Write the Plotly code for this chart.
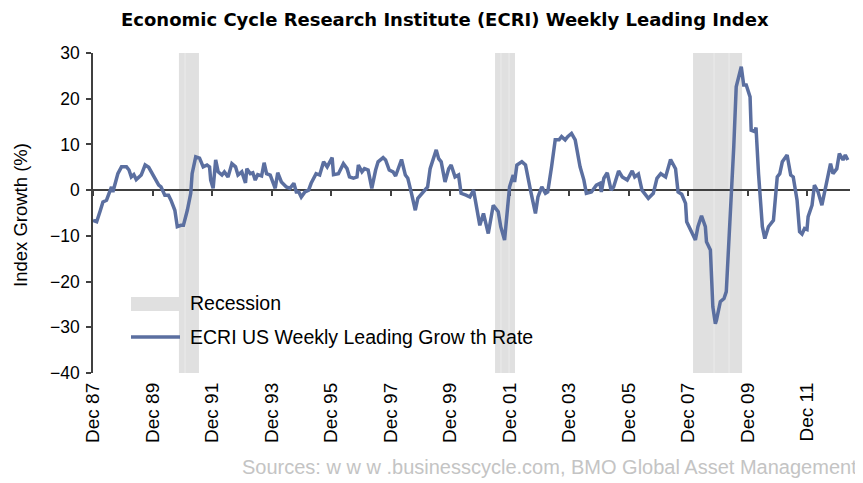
import plotly.graph_objects as go

# ---- data ----
dates = [
    "1987-12-01","1988-01-15","1988-03-01","1988-04-01","1988-05-15","1988-06-15","1988-07-15","1988-08-01",
    "1988-10-01","1988-11-15","1989-01-15","1989-02-15","1989-03-15","1989-04-15","1989-05-15","1989-07-15",
    "1989-09-01","1989-10-15","1989-11-15","1990-01-01","1990-02-15","1990-03-15","1990-05-01","1990-06-15",
    "1990-07-15","1990-09-01","1990-10-01","1990-11-15","1990-12-15","1991-02-01","1991-03-15","1991-04-01",
    "1991-05-15","1991-07-01","1991-08-15","1991-10-01","1991-11-01","1991-11-15","1991-12-15","1992-01-15",
    "1992-02-15","1992-04-01","1992-05-01","1992-06-15","1992-08-01","1992-09-15","1992-10-15","1992-12-01",
    "1993-01-15","1993-02-01","1993-03-15","1993-04-15","1993-05-15","1993-06-15","1993-08-01","1993-09-01",
    "1993-10-01","1993-11-15","1993-12-15","1994-01-15","1994-02-15","1994-04-01","1994-06-01","1994-07-15",
    "1994-09-01","1994-10-01","1994-11-01","1994-12-01","1995-01-15","1995-03-01","1995-04-01","1995-06-01",
    "1995-07-15","1995-09-01","1995-10-15","1995-12-15","1996-01-01","1996-03-01","1996-05-01","1996-06-15",
    "1996-07-15","1996-09-01","1996-10-15","1996-11-01","1996-12-15","1997-01-15","1997-03-01","1997-04-15",
    "1997-06-01","1997-07-01","1997-09-01","1997-10-01","1997-11-15","1998-01-01","1998-02-01","1998-03-01",
    "1998-04-15","1998-06-01","1998-07-01","1998-08-15","1998-10-01","1998-11-01","1999-01-01","1999-03-01",
    "1999-04-01","1999-05-15","1999-06-15","1999-07-15","1999-08-15","1999-10-01","1999-11-15","1999-12-15",
    "2000-02-01","2000-03-15","2000-04-15","2000-06-15","2000-08-01","2000-09-15","2000-11-01","2000-12-01",
    "2001-01-15","2001-03-15","2001-05-15","2001-07-15","2001-08-15","2001-10-01","2001-12-01","2002-01-15",
    "2002-02-01","2002-03-01","2002-05-01","2002-06-15","2002-08-15","2002-10-15","2002-11-15","2003-01-01",
    "2003-02-15","2003-03-15","2003-05-01","2003-06-15","2003-08-01","2003-09-01","2003-10-15","2003-11-15",
    "2004-01-01","2004-02-15","2004-04-15","2004-06-01","2004-07-01","2004-09-01","2004-11-01","2004-12-15",
    "2005-01-01","2005-02-01","2005-03-15","2005-05-01","2005-06-01","2005-08-01","2005-09-15","2005-11-15",
    "2006-01-15","2006-02-15","2006-04-01","2006-05-15","2006-08-01","2006-10-01","2006-11-15","2007-01-01",
    "2007-03-01","2007-05-01","2007-07-01","2007-08-01","2007-09-15","2007-11-01","2007-11-15","2008-01-15",
    "2008-03-01","2008-04-01","2008-05-15","2008-07-01","2008-07-15","2008-09-01","2008-10-01","2008-11-01",
    "2008-11-15","2009-01-01","2009-02-15","2009-03-15","2009-04-01","2009-05-01","2009-06-15","2009-07-15",
    "2009-09-01","2009-09-15","2009-10-15","2009-11-15","2010-01-01","2010-01-15","2010-03-01","2010-03-15",
    "2010-04-15","2010-06-01","2010-07-01","2010-08-15","2010-10-15","2010-12-01","2011-01-01","2011-02-01",
    "2011-04-01","2011-05-15","2011-06-15","2011-08-01","2011-09-01","2011-10-01","2011-11-01","2011-12-01",
    "2011-12-15","2012-02-01","2012-03-01","2012-04-15","2012-06-01","2012-07-15","2012-08-15","2012-09-15",
    "2012-10-15","2012-12-01","2013-01-01","2013-02-15","2013-03-15","2013-04-15",
]
growth = [
    -6.6, -6.9, -4.4, -2.6, -2.2, -0.4, 0.7, -0.4,
    3.6, 5.1, 5.1, 4.4, 2.9, 3.4, 2.3, 3.3,
    5.5, 5.0, 4.0, 2.2, 1.1, 0.7, -1.1, -1.1,
    -2.2, -4.4, -8.0, -7.7, -7.7, -4.4, -0.7, 3.6,
    7.3, 7.0, 5.1, 5.5, 5.1, 2.2, 0.4, 6.6,
    4.0, 3.3, 4.0, 2.9, 5.8, 5.1, 3.3, 4.0,
    1.6, 4.7, 3.6, 3.8, 2.2, 3.4, 3.1, 6.0,
    3.6, 3.3, 1.8, 0.4, 3.8, 1.8, 0.7, 0.4,
    1.5, -0.4, -0.4, -1.5, -0.4, 0.0, 1.5, 3.6,
    3.3, 6.2, 5.1, 7.1, 3.4, 3.6, 5.8, 4.7,
    2.9, 2.6, 2.9, 5.5, 4.0, 4.7, 4.4, 0.4,
    4.4, 6.2, 7.1, 6.6, 4.4, 4.0, 3.1, 4.7,
    6.7, 3.3, 2.6, -0.7, -4.4, -1.8, -0.4, 0.7,
    4.7, 6.9, 8.8, 6.9, 6.2, 1.8, 4.7, 5.5,
    2.9, 3.3, -0.7, -1.1, -1.5, 0.0, -4.4, -7.7,
    -5.1, -9.5, -3.3, -4.7, -8.0, -10.9, 0.7, 3.3,
    1.8, 5.5, 6.2, 5.5, 0.0, -5.1, -1.5, 0.7,
    -0.7, -0.4, 5.1, 11.0, 11.0, 11.7, 11.0, 11.7,
    12.4, 11.0, 5.1, 2.2, -0.7, -0.4, 1.1, 1.5,
    -0.4, 2.6, 3.8, 0.0, 0.7, 4.2, 2.9, 2.2,
    4.2, 2.9, 3.5, 0.0, -1.8, -0.7, 2.6, 3.6,
    2.9, 6.7, 4.7, -0.4, -0.9, -2.9, -6.9, -9.1,
    -10.9, -8.0, -5.6, -8.0, -11.3, -13.1, -25.5, -29.2,
    -28.4, -24.4, -23.7, -22.2, -16.8, -5.1, 9.5, 22.6,
    26.3, 27.0, 23.0, 23.0, 20.4, 13.1, 12.8, 13.7,
    3.6, -8.0, -10.6, -8.0, -6.6, 2.9, 3.6, 6.2,
    7.7, 3.3, 2.9, -2.2, -9.1, -9.6, -8.4, -8.6,
    -5.8, -3.3, 1.1, -0.4, -3.3, 0.7, 2.9, 5.8,
    3.6, 4.7, 8.0, 6.6, 7.7, 6.6,
]

recession_starts = ["1990-10-21", "2001-06-06", "2008-02-01"]
recession_ends = ["1991-06-24", "2002-02-06", "2009-09-25"]
recession_dividers = ["1991-01-04", "2001-08-18", "2001-11-25", "2008-10-16", "2009-04-18"]

tick_dates = ["1987-12-01", "1989-12-01", "1991-12-01", "1993-12-01", "1995-12-01", "1997-12-01",
              "1999-12-01", "2001-12-01", "2003-12-01", "2005-12-01", "2007-12-01", "2009-12-01",
              "2011-12-01"]
tick_labels = ["Dec 87", "Dec 89", "Dec 91", "Dec 93", "Dec 95", "Dec 97", "Dec 99",
               "Dec 01", "Dec 03", "Dec 05", "Dec 07", "Dec 09", "Dec 11"]
y_ticks = [-40, -30, -20, -10, 0, 10, 20, 30]

title_text = "Economic Cycle Research Institute (ECRI) Weekly Leading Index"
y_title = "Index Growth (%)"
source_text = "Sources: w w w .businesscycle.com, BMO Global Asset Management"
legend_recession = "Recession"
legend_line = "ECRI US Weekly Leading Grow th Rate"

# ---- styling ----
FONT = "Liberation Sans, Arial, sans-serif"
TITLE_FONT = "DejaVu Sans, Liberation Sans, sans-serif"
LINE_COLOR = "#5B6FA0"
BAND_COLOR = "#E0E0E0"
X_RANGE = ["1987-12-01", "2013-05-12"]

OFF = 8  # page body margin
W, H = 863 - OFF, 483 - OFF
# plot area in page pixels: x 93..850, y 53..373
L = 93 - OFF
T = 53 - OFF
R = W - (850 - OFF)
B = H - (373 - OFF)
PW, PH = W - L - R, H - T - B


def px(x):
    """page pixel x -> paper coordinate"""
    return (x - OFF - L) / PW


def py(y):
    """page pixel y -> paper coordinate"""
    return (H - B - (y - OFF)) / PH


fig = go.Figure()

fig.add_trace(go.Scatter(
    x=dates, y=growth, mode="lines",
    line=dict(color=LINE_COLOR, width=3.5),
    hoverinfo="skip", showlegend=False, xaxis="x", yaxis="y",
))
# dummy trace so the zero-line axis (x2) is drawn
fig.add_trace(go.Scatter(
    x=[dates[0]], y=[None], mode="lines", hoverinfo="skip",
    showlegend=False, xaxis="x2", yaxis="y",
))

shapes = []
for s, e in zip(recession_starts, recession_ends):
    shapes.append(dict(type="rect", xref="x", yref="paper", x0=s, x1=e, y0=0, y1=1,
                       fillcolor=BAND_COLOR, line=dict(width=0), layer="below"))
for d in recession_dividers:
    shapes.append(dict(type="line", xref="x", yref="paper", x0=d, x1=d, y0=0, y1=1,
                       line=dict(color="#EBEBEB", width=1), layer="below"))

# manual legend
shapes.append(dict(type="rect", xref="paper", yref="paper",
                   x0=px(131), x1=px(180), y0=py(311), y1=py(297),
                   fillcolor=BAND_COLOR, line=dict(width=0)))
shapes.append(dict(type="line", xref="paper", yref="paper",
                   x0=px(131), x1=px(180), y0=py(337), y1=py(337),
                   line=dict(color=LINE_COLOR, width=3.5)))

annotations = [
    dict(text=f"<b>{title_text}</b>", xref="paper", yref="paper", x=px(445), y=py(OFF),
         xanchor="center", yanchor="top", showarrow=False, borderpad=0,
         font=dict(family=TITLE_FONT, size=18, color="#000000")),
    dict(text=y_title, xref="paper", yref="paper", x=px(20), y=py(215), textangle=-90,
         xanchor="center", yanchor="middle", showarrow=False,
         font=dict(family=FONT, size=18.5, color="#000000")),
    dict(text=source_text, xref="paper", yref="paper", x=px(859), y=py(467),
         xanchor="right", yanchor="middle", showarrow=False,
         font=dict(family=FONT, size=20, color="#C4C4C4")),
    dict(text=legend_recession, xref="paper", yref="paper", x=px(188), y=py(303),
         xanchor="left", yanchor="middle", showarrow=False,
         font=dict(family=FONT, size=19.5, color="#000000")),
    dict(text=legend_line, xref="paper", yref="paper", x=px(188), y=py(337),
         xanchor="left", yanchor="middle", showarrow=False,
         font=dict(family=FONT, size=19.5, color="#000000")),
]

fig.update_layout(
    width=W, height=H,
    margin=dict(l=L, r=R, t=T, b=B, pad=0),
    paper_bgcolor="white", plot_bgcolor="white",
    font=dict(family=FONT, color="#000000"),
    showlegend=False,
    xaxis=dict(
        type="date", range=X_RANGE, tickmode="array", tickvals=tick_dates, ticktext=tick_labels,
        tickangle=-90, showline=False, showgrid=False, zeroline=False, ticks="",
        ticklabelstandoff=5, tickfont=dict(family=FONT, size=19, color="#000000"),
    ),
    xaxis2=dict(
        type="date", range=X_RANGE, overlaying="x", anchor="free", position=40 / 70,
        tickmode="array", tickvals=tick_dates, showticklabels=False,
        showline=True, linecolor="#404040", linewidth=1.5, ticks="outside", ticklen=5,
        tickcolor="#404040", tickwidth=1.5, showgrid=False, zeroline=False, layer="below traces",
    ),
    yaxis=dict(
        range=[-40, 30], tickmode="array", tickvals=y_ticks, showgrid=False, zeroline=False,
        showline=True, linecolor="#404040", linewidth=1.5, ticks="outside", ticklen=5,
        tickcolor="#404040", tickwidth=1.5, ticklabelstandoff=3,
        tickfont=dict(family=FONT, size=17.5, color="#000000"),
    ),
    shapes=shapes,
    annotations=annotations,
)

fig.write_html("out.html")
